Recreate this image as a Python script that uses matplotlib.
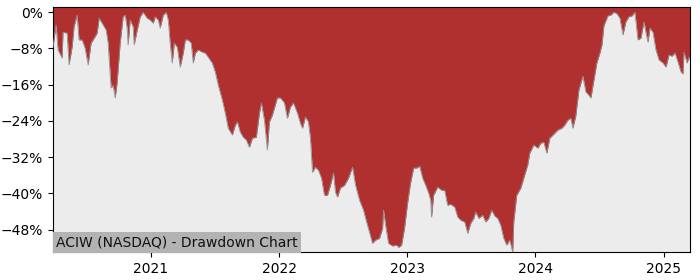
import matplotlib
matplotlib.use("Agg")
import matplotlib.pyplot as plt
import matplotlib.dates as mdates
from matplotlib.ticker import FuncFormatter, FixedLocator
import pandas as pd
import numpy as np

# Time in decimal years
t_years = [
    2020.238, 2020.262, 2020.277, 2020.309, 2020.316, 2020.348, 2020.363, 2020.387, 2020.402, 2020.426,
    2020.441, 2020.465, 2020.488, 2020.512, 2020.535, 2020.551, 2020.582, 2020.598, 2020.621, 2020.652,
    2020.668, 2020.691, 2020.707, 2020.723, 2020.738, 2020.762, 2020.785, 2020.801, 2020.816, 2020.824,
    2020.840, 2020.863, 2020.871, 2020.895, 2020.918, 2020.941, 2020.973, 2020.996, 2021.020, 2021.035,
    2021.059, 2021.074, 2021.098, 2021.121, 2021.137, 2021.152, 2021.168, 2021.184, 2021.207, 2021.230,
    2021.254, 2021.270, 2021.293, 2021.316, 2021.332, 2021.348, 2021.371, 2021.402, 2021.426, 2021.449,
    2021.480, 2021.504, 2021.527, 2021.559, 2021.582, 2021.605, 2021.637, 2021.660, 2021.676, 2021.699,
    2021.723, 2021.746, 2021.770, 2021.793, 2021.824, 2021.848, 2021.863, 2021.887, 2021.910, 2021.926,
    2021.949, 2021.988, 2022.012, 2022.043, 2022.066, 2022.090, 2022.113, 2022.145, 2022.168, 2022.184,
    2022.207, 2022.230, 2022.246, 2022.262, 2022.285, 2022.309, 2022.332, 2022.355, 2022.379, 2022.402,
    2022.426, 2022.441, 2022.457, 2022.480, 2022.512, 2022.543, 2022.574, 2022.598, 2022.629, 2022.660,
    2022.684, 2022.707, 2022.730, 2022.754, 2022.785, 2022.809, 2022.816, 2022.832, 2022.855, 2022.887,
    2022.918, 2022.934, 2022.957, 2022.980, 2023.004, 2023.027, 2023.051, 2023.074, 2023.098, 2023.121,
    2023.145, 2023.168, 2023.184, 2023.191, 2023.207, 2023.238, 2023.270, 2023.293, 2023.316, 2023.340,
    2023.371, 2023.395, 2023.418, 2023.449, 2023.473, 2023.496, 2023.520, 2023.535, 2023.559, 2023.590,
    2023.613, 2023.637, 2023.660, 2023.684, 2023.707, 2023.730, 2023.754, 2023.777, 2023.801, 2023.816,
    2023.824, 2023.832, 2023.855, 2023.887, 2023.910, 2023.941, 2023.957, 2023.988, 2024.020, 2024.043,
    2024.066, 2024.090, 2024.113, 2024.145, 2024.176, 2024.207, 2024.230, 2024.254, 2024.277, 2024.293,
    2024.316, 2024.340, 2024.371, 2024.395, 2024.418, 2024.434, 2024.457, 2024.480, 2024.504, 2024.520,
    2024.535, 2024.566, 2024.590, 2024.613, 2024.637, 2024.660, 2024.684, 2024.707, 2024.730, 2024.754,
    2024.777, 2024.801, 2024.824, 2024.848, 2024.863, 2024.879, 2024.895, 2024.918, 2024.941, 2024.965,
    2024.996, 2025.020, 2025.043, 2025.066, 2025.090, 2025.113, 2025.137, 2025.152, 2025.160, 2025.184,
    2025.199, 2025.207,
]

# Drawdown in percent
drawdown_pct = [
    -7.7, -2.8, -8.3, -10.1, -4.4, -4.6, -11.6, -7.7, -3.2, -0.6,
    -6.1, -6.1, -7.9, -11.6, -6.8, -6.1, -4.6, -1.3, -2.4, -3.9,
    -6.8, -16.7, -16.1, -18.9, -15.6, -6.8, -1.0, -0.6, -3.5, -7.2,
    -1.7, -3.2, -7.2, -3.9, -1.0, 0.0, -1.3, -1.7, -2.4, -1.0,
    -1.7, -3.5, -0.6, 0.0, -1.7, -6.8, -11.2, -6.8, -7.7, -12.1,
    -9.0, -6.1, -6.1, -6.8, -11.2, -9.0, -8.3, -8.8, -9.0, -9.9,
    -11.2, -13.2, -16.1, -19.4, -22.3, -25.6, -27.1, -24.9, -24.2, -26.5,
    -27.6, -28.2, -29.8, -27.8, -27.6, -22.3, -20.0, -23.8, -30.4, -24.2,
    -22.7, -18.9, -18.9, -20.0, -23.4, -20.9, -20.0, -22.3, -24.5, -25.6,
    -23.1, -24.2, -27.8, -35.3, -34.2, -34.9, -36.6, -40.4, -40.4, -38.2,
    -35.5, -39.7, -40.8, -38.8, -38.2, -36.6, -34.2, -38.2, -41.5, -43.7,
    -46.3, -48.6, -51.0, -50.3, -49.9, -47.7, -43.7, -47.0, -51.0, -51.6,
    -51.4, -51.9, -51.4, -47.7, -42.1, -37.7, -34.4, -34.4, -34.0, -36.6,
    -38.2, -39.9, -41.5, -45.2, -40.4, -38.6, -39.3, -39.3, -42.6, -42.4,
    -43.0, -45.2, -45.9, -46.3, -48.8, -46.6, -45.5, -44.1, -45.5, -44.8,
    -46.3, -45.5, -43.7, -45.0, -45.5, -47.0, -49.9, -51.4, -50.3, -52.1,
    -52.95, -46.3, -40.4, -38.8, -36.6, -33.7, -31.1, -29.3, -30.0, -28.9,
    -28.7, -31.1, -27.8, -26.9, -26.0, -25.6, -24.9, -23.8, -23.4, -25.6,
    -22.9, -17.2, -14.1, -17.6, -18.3, -18.9, -15.0, -11.2, -9.0, -7.2,
    -3.0, -0.8, -0.6, 0.0, -0.3, -1.3, -5.0, -2.1, -1.0, -0.8,
    0.0, -6.1, -5.7, -2.1, -4.4, -6.6, -3.5, -4.4, -8.3, -10.5,
    -11.2, -12.1, -9.4, -9.7, -9.0, -11.0, -13.2, -13.6, -8.8, -11.2,
    -9.9, -10.5,
]

y_ticks = [0, -8, -16, -24, -32, -40, -48]
label_text = "ACIW (NASDAQ) - Drawdown Chart"

dates = pd.Timestamp("2020-01-01") + pd.to_timedelta((np.array(t_years) - 2020.0) * 365.25, unit="D")
dd = np.array(drawdown_pct)

fig = plt.figure(figsize=(7, 2.8), dpi=100)
ax = fig.add_axes([0.0757, 0.0989, 0.91, 0.8751])
ax.set_facecolor("#ececec")

y_top, y_bot = 1.1, -53.0
ax.fill_between(dates, dd, y_top, color="#b03030", linewidth=0, zorder=2)
ax.plot(dates, dd, color="#909090", linewidth=0.6, zorder=3)

ax.set_ylim(y_bot, y_top)
ax.set_xlim(dates[0], dates[-1])
ax.yaxis.set_major_locator(FixedLocator(y_ticks))
ax.yaxis.set_major_formatter(FuncFormatter(lambda v, p: f"{v:.0f}%".replace("-", "\u2212")))
ax.xaxis.set_major_locator(mdates.YearLocator())
ax.xaxis.set_major_formatter(mdates.DateFormatter("%Y"))
ax.tick_params(labelsize=10)

ax.text(0.005, 0.012, label_text, transform=ax.transAxes, fontsize=10, color="#111111",
        ha="left", va="bottom", zorder=5,
        bbox=dict(facecolor="#b3b3b3", edgecolor="none", pad=2.5))

fig.savefig("out.png", dpi=100)
